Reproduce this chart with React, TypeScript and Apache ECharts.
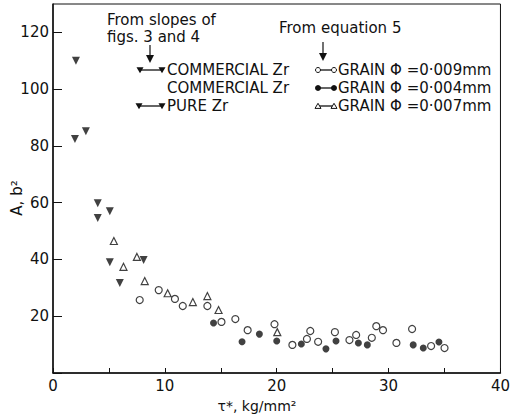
import React, { useEffect, useRef } from "react";
import * as echarts from "echarts";

const xTicks = [0, 10, 20, 30, 40];
const yTicks = [20, 40, 60, 80, 100, 120];

const pureZr: number[][] = [
  [2.05, 110], [1.96, 82.4], [2.94, 85.2], [4.0, 59.8], [4.0, 54.6],
  [5.08, 57], [5.08, 39], [5.97, 31.7], [8.1, 39.8],
];
const grain007: number[][] = [
  [5.44, 46.5], [6.3, 37.4], [7.5, 40.9], [8.2, 32.4], [10.25, 28.1],
  [12.5, 25], [13.8, 27.1], [14.8, 22.2], [20.05, 14.4],
];
const grain009: number[][] = [
  [7.75, 25.7], [9.45, 29.2], [10.9, 26.1], [11.6, 23.6], [13.8, 23.6],
  [15.06, 18], [16.3, 19], [17.4, 15.1], [19.8, 17.2], [21.4, 9.9],
  [22.7, 12], [23.0, 14.8], [23.7, 11], [25.2, 14.4], [26.5, 11.6],
  [27.1, 13.4], [28.5, 12.4], [28.9, 16.5], [29.5, 15.1], [30.7, 10.6],
  [32.1, 15.5], [33.8, 9.5], [35.0, 8.8],
];
const grain004: number[][] = [
  [14.35, 17.6], [16.9, 11], [18.45, 13.7], [20.0, 11.3], [22.2, 10.2],
  [24.4, 8.5], [25.3, 11.3], [27.3, 10.6], [28.1, 9.9], [32.2, 9.9],
  [33.1, 8.8], [34.5, 10.9],
];

const FONT = "DejaVu Sans";
const INK = "#111";

function downTri(cx: number, cy: number, s: number) {
  return {
    type: "polygon",
    shape: { points: [[cx - s, cy - s * 0.8], [cx + s, cy - s * 0.8], [cx, cy + s * 0.9]] },
    style: { fill: INK },
  };
}
function upTri(cx: number, cy: number, s: number) {
  return {
    type: "polygon",
    shape: { points: [[cx - s, cy + s * 0.8], [cx + s, cy + s * 0.8], [cx, cy - s * 0.9]] },
    style: { fill: "#fff", stroke: INK, lineWidth: 1 },
  };
}
function seg(x1: number, x2: number, y: number) {
  return { type: "line", shape: { x1, y1: y, x2, y2: y }, style: { stroke: INK, lineWidth: 1.3 } };
}
function txt(x: number, y: number, text: string, size = 15, align = "left") {
  return {
    type: "text",
    x,
    y,
    style: { text, fill: INK, font: `${size}px ${FONT}`, align, verticalAlign: "middle" },
  };
}
function arrow(x: number, y1: number, y2: number) {
  return [
    { type: "line", shape: { x1: x, y1, x2: x, y2: y2 - 6 }, style: { stroke: INK, lineWidth: 1.2 } },
    {
      type: "polygon",
      shape: { points: [[x - 4, y2 - 8], [x + 4, y2 - 8], [x, y2]] },
      style: { fill: INK },
    },
  ];
}

export default function App() {
  const ref = useRef<HTMLDivElement>(null);
  useEffect(() => {
    document.body.style.margin = "0";
    const chart = echarts.init(ref.current!, null, { renderer: "svg" });
    const r1 = 70, r2 = 88, r3 = 106;
    const graphic: any[] = [
      txt(107, 20, "From slopes of"),
      txt(107, 37, "figs. 3 and 4"),
      ...arrow(150, 45, 63),
      txt(279, 28, "From equation 5"),
      ...arrow(323, 42, 61),
      // row 1
      seg(140, 162, r1), downTri(140, r1, 3.5), downTri(162, r1, 3.5),
      txt(167, r1, "COMMERCIAL Zr"),
      seg(318, 334, r1),
      { type: "circle", shape: { cx: 318, cy: r1, r: 2.5 }, style: { fill: "#fff", stroke: INK, lineWidth: 1 } },
      { type: "circle", shape: { cx: 334, cy: r1, r: 2.5 }, style: { fill: "#fff", stroke: INK, lineWidth: 1 } },
      txt(338, r1, "GRAIN Φ =0·009mm"),
      // row 2
      txt(167, r2, "COMMERCIAL Zr"),
      seg(318, 334, r2),
      { type: "circle", shape: { cx: 318, cy: r2, r: 3 }, style: { fill: INK } },
      { type: "circle", shape: { cx: 334, cy: r2, r: 3 }, style: { fill: INK } },
      txt(338, r2, "GRAIN Φ =0·004mm"),
      // row 3
      seg(139, 162, r3), downTri(139, r3, 3.5), downTri(162, r3, 3.5),
      txt(167, r3, "PURE Zr"),
      seg(318, 334, r3), upTri(318, r3, 3), upTri(334, r3, 3),
      txt(338, r3, "GRAIN Φ =0·007mm"),
      // axis names
      {
        type: "text",
        x: 17,
        y: 198,
        rotation: Math.PI / 2,
        style: {
          text: "A, b²",
          fill: INK,
          font: `15px ${FONT}`,
          align: "center",
          verticalAlign: "middle",
        },
      },
      txt(257, 406, "τ*, kg/mm²", 14, "center"),
    ];

    const mk = (name: string, data: number[][], symbol: string, size: number, filled: boolean, rotate = 0) => ({
      name,
      type: "scatter",
      data,
      symbol,
      symbolSize: size,
      symbolRotate: rotate,
      itemStyle: filled
        ? { color: INK, borderWidth: 0 }
        : { color: "#fff", borderColor: INK, borderWidth: 1.2 },
    });

    chart.setOption({
      animation: false,
      backgroundColor: "#fff",
      grid: { left: 53, right: 10, top: 4, bottom: 43, show: true, borderColor: INK, borderWidth: 1 },
      xAxis: {
        type: "value",
        min: 0,
        max: 40,
        interval: 10,
        axisLine: { lineStyle: { color: INK, width: 1.5 } },
        axisTick: { inside: true, length: 5, lineStyle: { color: INK } },
        minorTick: { show: true, splitNumber: 2, length: 5, lineStyle: { color: INK } },
        splitLine: { show: false },
        axisLabel: {
          color: INK,
          fontFamily: FONT,
          fontSize: 15,
          margin: 5,
          formatter: (v: number) => (xTicks.includes(v) ? String(v) : ""),
        },
      },
      yAxis: {
        type: "value",
        min: 0,
        max: 130,
        interval: 20,
        axisLine: { lineStyle: { color: INK, width: 1.5 } },
        axisTick: { inside: true, length: 9, lineStyle: { color: INK } },
        splitLine: { show: false },
        axisLabel: {
          color: INK,
          fontFamily: FONT,
          fontSize: 15,
          margin: 4,
          showMaxLabel: false,
          formatter: (v: number) => (yTicks.includes(v) ? String(v) : ""),
        },
      },
      graphic,
      series: [
        mk("Pure Zr", pureZr, "triangle", 8, true, 180),
        mk("Grain 0.007", grain007, "triangle", 7, false),
        mk("Grain 0.009", grain009, "circle", 7, false),
        mk("Grain 0.004", grain004, "circle", 7, true),
      ],
    });
    return () => chart.dispose();
  }, []);
  return <div ref={ref} style={{ width: 513, height: 416 }} />;
}
